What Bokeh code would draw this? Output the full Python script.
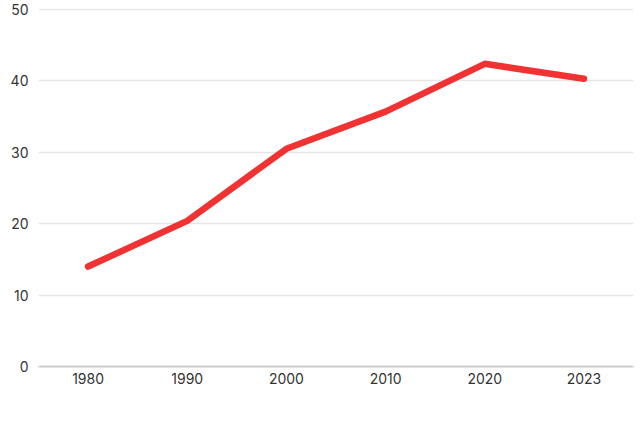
from bokeh.plotting import figure
from bokeh.embed import file_html
from bokeh.resources import INLINE
from bokeh.models import Range1d, FixedTicker

years = ["1980", "1990", "2000", "2010", "2020", "2023"]
values = [14.0, 20.4, 30.5, 35.7, 42.4, 40.3]
y_ticks = [0, 10, 20, 30, 40, 50]

p = figure(x_range=years, width=640, height=426, output_backend="svg",
           toolbar_location=None, min_border_left=38, min_border_right=7,
           min_border_top=8, min_border_bottom=60)
p.y_range = Range1d(0, 50.15)
p.outline_line_color = None
p.background_fill_color = "white"
p.border_fill_color = "white"

p.line(years, values, line_color="#f03232", line_width=6.5,
       line_cap="round", line_join="round")

p.yaxis.ticker = FixedTicker(ticks=y_ticks)
p.yaxis.axis_line_color = None
p.yaxis.major_tick_line_color = None
p.yaxis.minor_tick_line_color = None
p.yaxis.major_tick_out = 0
p.yaxis.major_label_standoff = 10

p.xaxis.axis_line_color = "#cccccc"
p.xaxis.axis_line_width = 2
p.xaxis.major_tick_line_color = None
p.xaxis.major_tick_out = 0
p.xaxis.major_label_standoff = 6

for ax in (p.xaxis, p.yaxis):
    ax.major_label_text_font = "Inter"
    ax.major_label_text_font_size = "14px"
    ax.major_label_text_color = "#333333"

p.xgrid.grid_line_color = None
p.ygrid.grid_line_color = "#e6e6e6"
p.ygrid.grid_line_width = 1.5

open("out.html", "w").write(file_html(p, INLINE))
